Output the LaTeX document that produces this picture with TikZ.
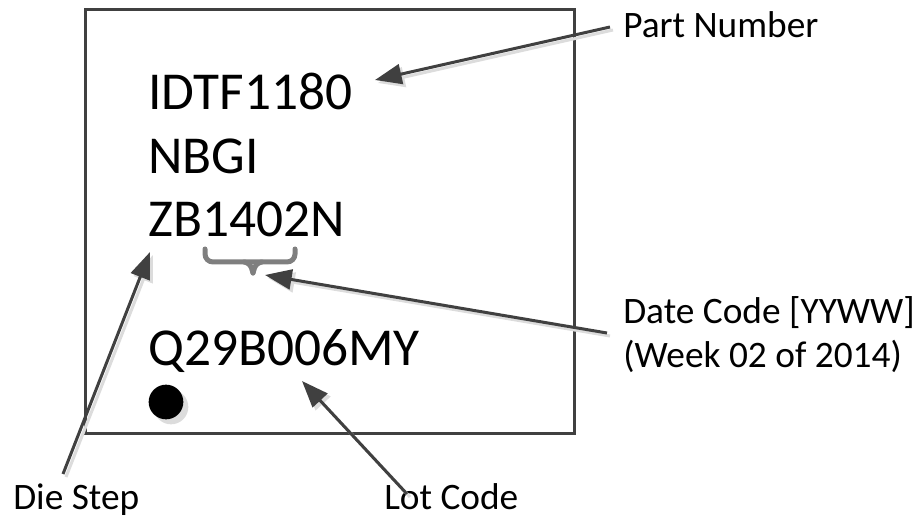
\documentclass[tikz,border=0pt]{standalone}
\usepackage{fontspec}
\setmainfont{Carlito}
\usetikzlibrary{arrows.meta}
\definecolor{arrowgray}{RGB}{64,64,64}
\definecolor{shadegray}{RGB}{220,220,220}
\definecolor{bracegray}{RGB}{127,127,127}
\begin{document}
\begin{tikzpicture}[x=0.75pt,y=-0.75pt,
  chiptext/.style={anchor=base west,inner sep=0pt,font=\fontsize{40}{48}\selectfont},
  calltext/.style={inner sep=0pt,font=\fontsize{28}{33}\selectfont},
  markarrow/.style={arrowgray,line width=2.25pt,-{Triangle[length=20pt,width=15pt]}},
  shadearrow/.style={markarrow,shadegray},
  datebrace/.style={bracegray,line width=3.75pt,line cap=round}]
  \useasboundingbox (0,0) rectangle (917,520);
  \draw[arrowgray,line width=2.25pt] (85,10) rectangle (574,433);
  \node[chiptext] (partno) at (148,110) {IDTF1180};
  \node[chiptext] (nbgi) at (148,174) {NBGI};
  \node[chiptext] (datestr) at (148,237) {ZB1402N};
  \node[chiptext] (lotno) at (148,365) {Q29B006MY};
  \fill[shadegray] (171,407) circle (13pt);
  \fill (166,402) circle (13pt);
  \draw[datebrace,rounded corners=6pt] (205,249) -- (205,262) -- (295,262) -- (295,249);
  \draw[datebrace,rounded corners=4pt] (244,262) -- (250,263) -- (253,273);
  \draw[datebrace,rounded corners=4pt] (262,262) -- (256,263) -- (253,273);
  % labels
  \node[calltext,anchor=base west] (partlbl) at (623,38) {Part Number};
  \node[calltext,anchor=west,align=left] (datelbl) at (623,335) {Date Code [YYWW]\\(Week 02 of 2014)};
  \node[calltext,anchor=base west] (dielbl) at (13,509) {Die Step};
  \node[calltext,anchor=base west] (lotlbl) at (384,509) {Lot Code};
  \coordinate (parttail) at ([shift={(-13,-11)}]partlbl.base west);
  \coordinate (datetail) at ([shift={(-16,-2)}]datelbl.west);
  \coordinate (dietail) at ([shift={(50,-35)}]dielbl.base west);
  \coordinate (lottail) at ([shift={(23,-15)}]lotlbl.base west);
  \coordinate (parttip) at (375,80);
  \coordinate (datetip) at (265,275);
  \coordinate (dietip) at (150,252);
  \coordinate (lottip) at (302,381);
  \foreach \s/\t in {parttail/parttip,datetail/datetip,dietail/dietip,lottail/lottip} {
    \draw[shadearrow] ([shift={(3,3)}]\s) -- ([shift={(3,3)}]\t);
    \draw[markarrow] (\s) -- (\t);
  }
\end{tikzpicture}
\end{document}
